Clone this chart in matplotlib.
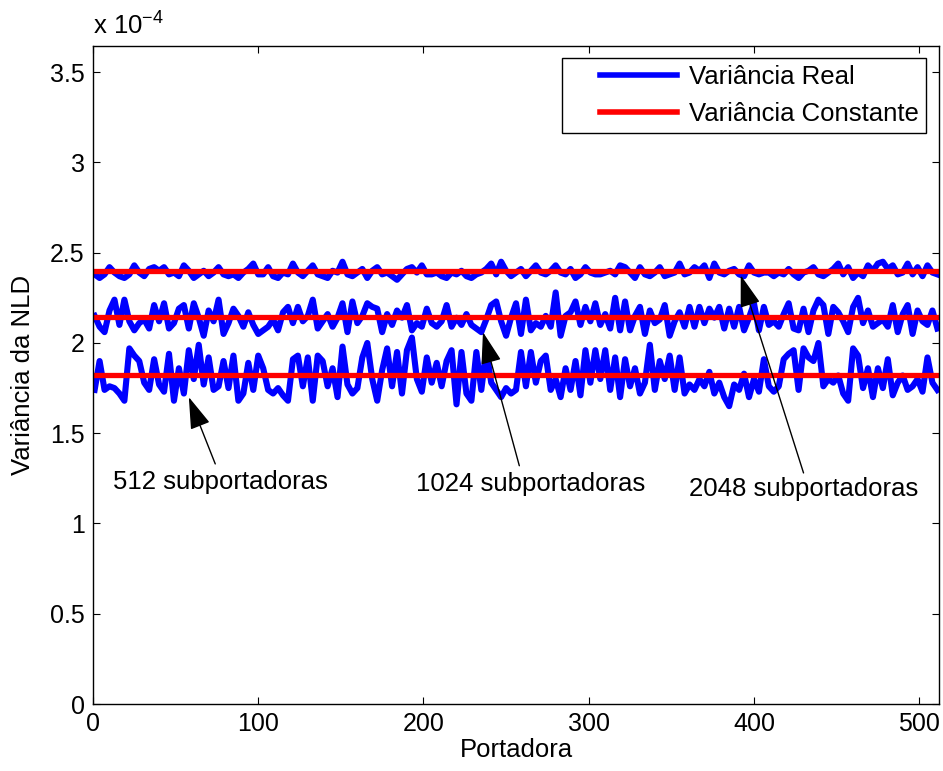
import numpy as np
import matplotlib
matplotlib.use('Agg')
import matplotlib.pyplot as plt
from matplotlib.ticker import FuncFormatter

# variance values, in units of 1e-4, one value every 3 carriers
var512 = [1.74, 1.90, 1.74, 1.76, 1.75, 1.72, 1.68, 1.97, 1.93, 1.90, 1.78, 1.74, 1.91, 1.77, 1.73, 1.94, 1.68, 1.86, 1.72, 1.96, 1.80, 1.99, 1.77, 1.92, 1.74, 1.76, 1.90, 1.75, 1.93, 1.68, 1.72, 1.89, 1.74, 1.93,
          1.86, 1.74, 1.72, 1.75, 1.71, 1.68, 1.91, 1.93, 1.76, 1.92, 1.68, 1.93, 1.90, 1.76, 1.86, 1.70, 1.98, 1.77, 1.72, 1.75, 1.92, 2.00, 1.80, 1.68, 1.85, 1.97, 1.76, 1.95, 1.72, 1.96, 2.03, 1.80, 1.73, 1.92,
          1.78, 1.89, 1.76, 1.90, 1.96, 1.66, 1.95, 1.72, 1.68, 1.95, 1.74, 1.96, 1.78, 1.74, 1.70, 1.75, 1.72, 1.74, 1.95, 1.76, 1.95, 1.78, 1.90, 1.93, 1.74, 1.80, 1.70, 1.86, 1.74, 1.90, 1.71, 1.96, 1.78, 1.96,
          1.80, 1.96, 1.74, 1.92, 1.70, 1.91, 1.76, 1.86, 1.72, 1.78, 1.99, 1.74, 1.90, 1.80, 1.93, 1.74, 1.92, 1.72, 1.77, 1.74, 1.80, 1.76, 1.84, 1.72, 1.78, 1.70, 1.65, 1.77, 1.74, 1.83, 1.70, 1.80, 1.73, 1.91,
          1.76, 1.73, 1.76, 1.91, 1.94, 1.96, 1.74, 1.97, 1.92, 1.90, 2.00, 1.76, 1.80, 1.78, 1.82, 1.72, 1.68, 1.97, 1.93, 1.75, 1.86, 1.70, 1.86, 1.75, 1.91, 1.71, 1.78, 1.82, 1.74, 1.76, 1.80, 1.73, 1.92, 1.78, 1.74]

var1024 = [2.15, 2.09, 2.06, 2.18, 2.24, 2.10, 2.24, 2.12, 2.07, 2.11, 2.13, 2.08, 2.21, 2.12, 2.22, 2.08, 2.11, 2.19, 2.21, 2.08, 2.22, 2.14, 2.04, 2.18, 2.12, 2.24, 2.05, 2.11, 2.19, 2.15, 2.09, 2.17, 2.10, 2.05,
           2.07, 2.09, 2.13, 2.07, 2.17, 2.20, 2.11, 2.20, 2.12, 2.15, 2.24, 2.08, 2.12, 2.16, 2.09, 2.14, 2.22, 2.06, 2.23, 2.11, 2.15, 2.22, 2.20, 2.19, 2.06, 2.16, 2.10, 2.18, 2.14, 2.21, 2.07, 2.11, 2.09, 2.19,
           2.11, 2.09, 2.12, 2.21, 2.09, 2.14, 2.10, 2.16, 2.10, 2.08, 2.06, 2.13, 2.21, 2.23, 2.12, 2.04, 2.14, 2.22, 2.05, 2.24, 2.07, 2.11, 2.09, 2.15, 2.09, 2.28, 2.04, 2.15, 2.17, 2.23, 2.10, 2.20, 2.12, 2.22,
           2.10, 2.16, 2.08, 2.25, 2.07, 2.23, 2.07, 2.15, 2.20, 2.05, 2.18, 2.11, 2.13, 2.21, 2.04, 2.12, 2.17, 2.09, 2.20, 2.09, 2.20, 2.11, 2.19, 2.14, 2.20, 2.08, 2.19, 2.09, 2.20, 2.07, 2.14, 2.22, 2.07, 2.20,
           2.10, 2.12, 2.09, 2.16, 2.22, 2.08, 2.07, 2.19, 2.06, 2.18, 2.24, 2.21, 2.05, 2.20, 2.17, 2.12, 2.06, 2.20, 2.25, 2.11, 2.18, 2.09, 2.11, 2.13, 2.09, 2.21, 2.06, 2.16, 2.21, 2.05, 2.18, 2.12, 2.10, 2.18, 2.08]

var2048 = [2.38, 2.36, 2.38, 2.42, 2.39, 2.37, 2.36, 2.38, 2.43, 2.39, 2.37, 2.41, 2.42, 2.40, 2.42, 2.38, 2.39, 2.37, 2.43, 2.40, 2.36, 2.38, 2.40, 2.37, 2.39, 2.42, 2.38, 2.37, 2.38, 2.36, 2.39, 2.41, 2.44, 2.38,
           2.38, 2.42, 2.37, 2.36, 2.39, 2.38, 2.44, 2.39, 2.37, 2.40, 2.43, 2.38, 2.37, 2.36, 2.40, 2.39, 2.45, 2.38, 2.37, 2.39, 2.41, 2.36, 2.40, 2.42, 2.38, 2.39, 2.37, 2.35, 2.38, 2.41, 2.42, 2.39, 2.43, 2.38,
           2.38, 2.39, 2.37, 2.36, 2.39, 2.38, 2.40, 2.37, 2.36, 2.38, 2.39, 2.41, 2.44, 2.38, 2.45, 2.40, 2.37, 2.39, 2.41, 2.37, 2.40, 2.43, 2.39, 2.38, 2.40, 2.43, 2.39, 2.38, 2.41, 2.36, 2.38, 2.42, 2.39, 2.38,
           2.38, 2.39, 2.40, 2.38, 2.43, 2.42, 2.39, 2.36, 2.42, 2.38, 2.37, 2.39, 2.42, 2.37, 2.38, 2.39, 2.44, 2.38, 2.39, 2.42, 2.40, 2.43, 2.36, 2.44, 2.39, 2.38, 2.40, 2.41, 2.38, 2.37, 2.43, 2.39, 2.38, 2.39,
           2.39, 2.37, 2.39, 2.38, 2.41, 2.38, 2.36, 2.39, 2.40, 2.42, 2.38, 2.37, 2.39, 2.41, 2.44, 2.38, 2.42, 2.36, 2.39, 2.37, 2.43, 2.40, 2.44, 2.45, 2.41, 2.43, 2.38, 2.39, 2.44, 2.38, 2.42, 2.37, 2.43, 2.39, 2.38]

# constant variance levels (red lines)
const_levels = [1.822, 2.143, 2.397]

labels = ['512 subportadoras', '1024 subportadoras', '2048 subportadoras']
arrow_tips = [(58, 1.70), (236, 2.06), (392, 2.375)]
arrow_tails = [(74, 1.33), (258, 1.32), (430, 1.28)]
text_pos = [(77, 1.23), (265, 1.22), (430, 1.19)]

plt.rcParams['font.family'] = ['Liberation Sans', 'DejaVu Sans']
plt.rcParams['mathtext.fontset'] = 'custom'
plt.rcParams['mathtext.rm'] = 'Liberation Sans'
plt.rcParams['mathtext.default'] = 'regular'
fs = 18.5

fig = plt.figure(figsize=(9.43, 7.71), dpi=100)
ax = fig.add_axes([0.0986, 0.0869, 0.8972, 0.8534])

for vals in [var512, var1024, var2048]:
    x = np.arange(len(vals)) * 3 + 1
    ax.plot(x, vals, color='#0000ff', lw=4.4, solid_joinstyle='round')
for lev in const_levels:
    ax.plot([0, 512], [lev, lev], color='#ff0000', lw=3.8)

ax.plot([], [], color='#0000ff', lw=4.0, label='Variância Real')
ax.plot([], [], color='#ff0000', lw=4.0, label='Variância Constante')

for lab, tip, tail, tp in zip(labels, arrow_tips, arrow_tails, text_pos):
    ax.annotate('', xy=tip, xytext=tail,
                arrowprops=dict(arrowstyle='-|>,head_length=0.5,head_width=0.16', color='k', lw=1,
                                mutation_scale=40, shrinkA=0, shrinkB=0))
    ax.text(tp[0], tp[1], lab, ha='center', va='center', fontsize=fs)

ax.set_xlim(0, 512)
ax.set_ylim(0, 3.645)
ax.set_xticks([0, 100, 200, 300, 400, 500])
ax.set_yticks([0, 0.5, 1, 1.5, 2, 2.5, 3, 3.5])
ax.yaxis.set_major_formatter(FuncFormatter(lambda v, p: '%g' % v))
ax.tick_params(direction='in', top=True, right=True, length=5, width=0.8, labelsize=18, pad=6)
for s in ax.spines.values():
    s.set_linewidth(1.0)

ax.set_xlabel('Portadora', fontsize=fs, labelpad=1)
ax.set_ylabel('Variância da NLD', fontsize=fs, labelpad=11)
ax.text(0, 1.01, r'x 10$^{-4}$', transform=ax.transAxes, fontsize=fs, ha='left', va='bottom')

leg = ax.legend(loc='upper right', bbox_to_anchor=(0.9846, 0.9818), borderaxespad=0,
                fontsize=fs, handlelength=4.2, handletextpad=0.45, labelspacing=0.5,
                fancybox=False, framealpha=1, edgecolor='k', borderpad=0.28)
leg.get_frame().set_linewidth(1.0)
# legend line starts a bit to the right inside the handle box, as in the original
for ln in leg.get_lines():
    xd = np.asarray(ln.get_xdata(), dtype=float)
    start = xd[0] + 0.28 * (xd[-1] - xd[0])
    ln.set_xdata(np.linspace(start, xd[-1], len(xd)))

plt.savefig('out.png', dpi=100)
